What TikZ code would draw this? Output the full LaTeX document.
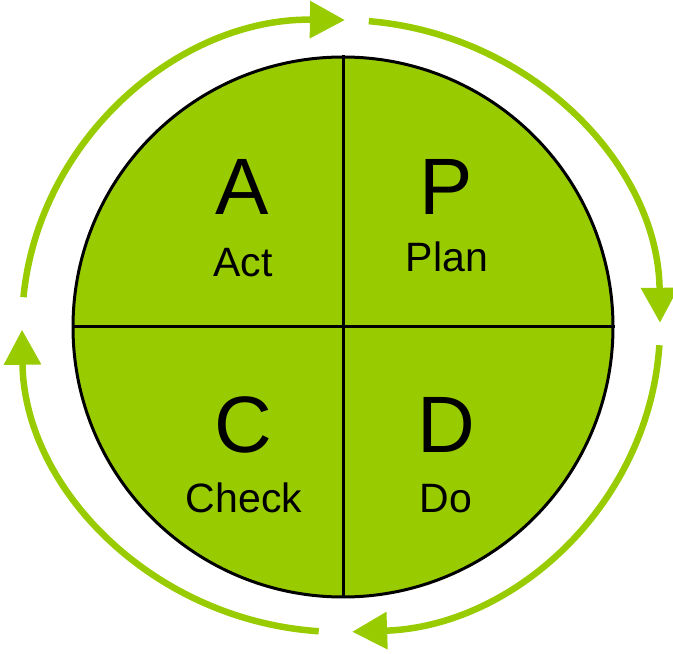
\documentclass[tikz,border=0pt]{standalone}
\usepackage{fontspec}
\setmainfont{Liberation Sans}
\usetikzlibrary{arrows.meta}
\definecolor{pdcagreen}{HTML}{99CC00}
\begin{document}
\begin{tikzpicture}[x=1pt,y=1pt,
  cycle/.style={draw=pdcagreen, line width=6.5pt, -{Triangle[length=35pt,width=36pt]}},
  bigletter/.style={font=\fontsize{80}{80}\selectfont, anchor=base, inner sep=0pt},
  word/.style={font=\fontsize{41}{41}\selectfont, anchor=base, inner sep=0pt},
  divider/.style={draw=black, line width=3pt}]
\useasboundingbox (0,0) rectangle (673,654);
\node[circle, minimum size=540pt, inner sep=0pt, draw=black, line width=3pt, fill=pdcagreen] (disc) at (343,327) {};
\draw[divider] (disc.north) -- (disc.south);
\draw[divider] (disc.west) -- (disc.east);
\coordinate (o) at (341,328);
\coordinate (s1) at ([shift={(174.6:319 and 306)}]o);
\coordinate (s2) at ([shift={(85:319 and 306)}]o);
\coordinate (s3) at ([shift={(-3.6:319 and 306)}]o);
\coordinate (s4) at ([shift={(-94:319 and 306)}]o);
\draw[cycle] (s1) arc[start angle=174.6, end angle=89.3, x radius=319, y radius=306];
\draw[cycle] (s2) arc[start angle=85, end angle=0.6, x radius=319, y radius=306];
\draw[cycle] (s3) arc[start angle=-3.6, end angle=-88, x radius=319, y radius=306];
\draw[cycle] (s4) arc[start angle=-94, end angle=-179.3, x radius=319, y radius=306];
\node[bigletter] (A) at (242,439) {A};
\node[word] (act) at (243,377) {Act};
\node[bigletter] (P) at (446,439) {P};
\node[word] (plan) at (447,382) {Plan};
\node[bigletter] (C) at (243,201) {C};
\node[word] (check) at (244,141) {Check};
\node[bigletter] (D) at (446,201) {D};
\node[word] (do) at (446,141) {Do};
\end{tikzpicture}
\end{document}
